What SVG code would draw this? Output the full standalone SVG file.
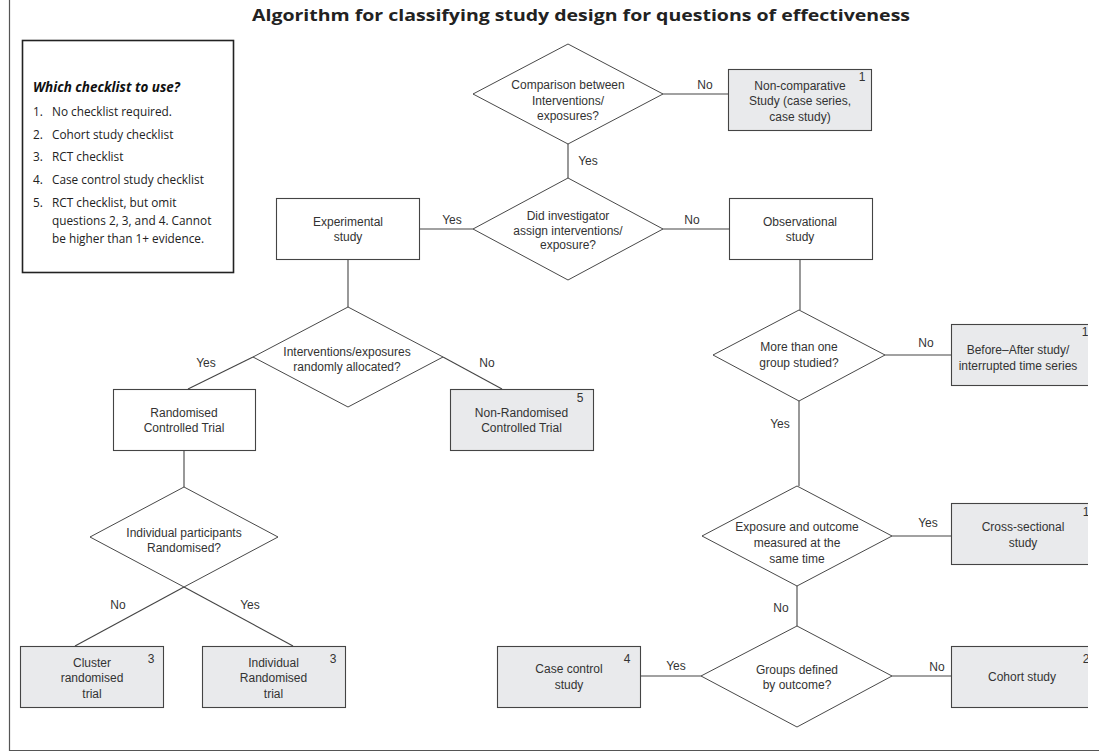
<svg xmlns="http://www.w3.org/2000/svg" width="1099" height="754" viewBox="0 0 1099 754">
  <defs>
    <clipPath id="page">
      <rect x="0" y="0" width="1088" height="754"/>
    </clipPath>
  </defs>
  <style>
    .frame { fill: none; stroke: #555; stroke-width: 1.2; }
    .legend { fill: #fff; stroke: #222; stroke-width: 1.6; }
    .box { fill: #fff; stroke: #444; stroke-width: 1.1; }
    .grey { fill: #e9eaec; stroke: #444; stroke-width: 1.1; }
    .dia { fill: #fff; stroke: #333; stroke-width: 0.9; }
    .conn line, .conn polyline { stroke: #444; stroke-width: 1.1; fill: none; }
    .t { font-family: "Liberation Sans", Arial, sans-serif; font-size: 12px; fill: #333; text-anchor: middle; }
    .lbl { font-family: "Liberation Sans", Arial, sans-serif; font-size: 12px; fill: #333; text-anchor: middle; }
    .num { font-family: "Liberation Sans", Arial, sans-serif; font-size: 12px; fill: #333; text-anchor: middle; }
    .title { font-family: "Open Sans", Lato, sans-serif; font-size: 16px; font-weight: bold; fill: #222; }
    .lh { font-family: "Open Sans", Lato, sans-serif; font-size: 15px; font-weight: bold; font-style: italic; fill: #111; }
    .li { font-family: "Open Sans", Lato, sans-serif; font-size: 11.8px; fill: #222; }
  </style>

  <!-- page frame -->
  <polyline class="frame" points="9.5,0 9.5,750.5 1099,750.5"/>

  <text class="title" x="252" y="21" textLength="658" lengthAdjust="spacingAndGlyphs">Algorithm for classifying study design for questions of effectiveness</text>

  <!-- legend -->
  <g id="legend">
    <rect class="legend" x="22.5" y="40.5" width="211" height="232"/>
    <text class="lh" x="33" y="92" textLength="147" lengthAdjust="spacingAndGlyphs">Which checklist to use?</text>
    <text class="li" x="33" y="116">1.</text><text class="li" x="52" y="116">No checklist required.</text>
    <text class="li" x="33" y="139">2.</text><text class="li" x="52" y="139">Cohort study checklist</text>
    <text class="li" x="33" y="161">3.</text><text class="li" x="52" y="161">RCT checklist</text>
    <text class="li" x="33" y="184">4.</text><text class="li" x="52" y="184">Case control study checklist</text>
    <text class="li" x="33" y="207">5.</text><text class="li" x="52" y="207">RCT checklist, but omit</text>
    <text class="li" x="52" y="225">questions 2, 3, and 4. Cannot</text>
    <text class="li" x="52" y="243">be higher than 1+ evidence.</text>
  </g>

  <!-- connectors -->
  <g id="connectors" class="conn" clip-path="url(#page)">
    <line x1="663" y1="94" x2="728" y2="94"/>
    <line x1="568" y1="144" x2="568" y2="178"/>
    <line x1="473" y1="229" x2="420" y2="229"/>
    <line x1="663" y1="229" x2="729" y2="229"/>
    <line x1="348" y1="259" x2="348" y2="307"/>
    <line x1="253" y1="357" x2="188" y2="389"/>
    <line x1="443" y1="357" x2="502" y2="389"/>
    <line x1="184" y1="451" x2="184" y2="487"/>
    <line x1="184" y1="587" x2="293" y2="646"/>
    <line x1="184" y1="587" x2="75" y2="646"/>
    <line x1="800" y1="259" x2="800" y2="310"/>
    <line x1="885" y1="355" x2="951" y2="355"/>
    <line x1="799" y1="401" x2="799" y2="486"/>
    <line x1="892" y1="536" x2="951" y2="536"/>
    <line x1="797" y1="586" x2="797" y2="626"/>
    <line x1="892" y1="676" x2="951" y2="676"/>
    <line x1="641" y1="676" x2="701" y2="676"/>
  </g>

  <!-- branch labels -->
  <g id="branch-labels">
    <text class="lbl" x="705" y="89">No</text>
    <text class="lbl" x="588" y="165">Yes</text>
    <text class="lbl" x="452" y="224">Yes</text>
    <text class="lbl" x="692" y="224">No</text>
    <text class="lbl" x="206" y="367">Yes</text>
    <text class="lbl" x="487" y="367">No</text>
    <text class="lbl" x="118" y="609">No</text>
    <text class="lbl" x="250" y="609">Yes</text>
    <text class="lbl" x="926" y="347">No</text>
    <text class="lbl" x="780" y="428">Yes</text>
    <text class="lbl" x="928" y="527">Yes</text>
    <text class="lbl" x="781" y="612">No</text>
    <text class="lbl" x="937" y="671">No</text>
    <text class="lbl" x="676" y="670">Yes</text>
  </g>

  <!-- decisions -->
  <g id="q-comparison">
    <polygon class="dia" points="568,44 663,94 568,144 473,94"/>
    <text class="t" x="568" y="89">Comparison between</text>
    <text class="t" x="568" y="104.5">Interventions/</text>
    <text class="t" x="568" y="120">exposures?</text>
  </g>
  <g id="q-assign">
    <polygon class="dia" points="568,178 663,229 568,280 473,229"/>
    <text class="t" x="568" y="219.5">Did investigator</text>
    <text class="t" x="568" y="234.5">assign interventions/</text>
    <text class="t" x="568" y="249">exposure?</text>
  </g>
  <g id="q-random">
    <polygon class="dia" points="348,307 443,357 348,407 253,357"/>
    <text class="t" x="347" y="356">Interventions/exposures</text>
    <text class="t" x="347" y="371">randomly allocated?</text>
  </g>
  <g id="q-individual">
    <polygon class="dia" points="184,487 278,537 184,587 90,537"/>
    <text class="t" x="184" y="537">Individual participants</text>
    <text class="t" x="184" y="552">Randomised?</text>
  </g>
  <g id="q-groups">
    <polygon class="dia" points="799,310 885,355 799,401 713,355"/>
    <text class="t" x="799" y="351">More than one</text>
    <text class="t" x="799" y="367">group studied?</text>
  </g>
  <g id="q-same-time">
    <polygon class="dia" points="797,486 892,536 797,586 702,536"/>
    <text class="t" x="797" y="531">Exposure and outcome</text>
    <text class="t" x="797" y="547">measured at the</text>
    <text class="t" x="797" y="563">same time</text>
  </g>
  <g id="q-outcome">
    <polygon class="dia" points="797,626 892,676 797,727 701,676"/>
    <text class="t" x="797" y="674">Groups defined</text>
    <text class="t" x="797" y="689">by outcome?</text>
  </g>

  <!-- study design boxes -->
  <g id="non-comparative">
    <rect class="grey" x="728.5" y="69.5" width="143" height="61"/>
    <text class="num" x="862" y="81">1</text>
    <text class="t" x="800" y="89.5">Non-comparative</text>
    <text class="t" x="800" y="105">Study (case series,</text>
    <text class="t" x="800" y="120.5">case study)</text>
  </g>
  <g id="experimental">
    <rect class="box" x="276.5" y="198.5" width="143" height="61"/>
    <text class="t" x="348" y="226">Experimental</text>
    <text class="t" x="348" y="241">study</text>
  </g>
  <g id="observational">
    <rect class="box" x="729.5" y="198.5" width="143" height="61"/>
    <text class="t" x="800" y="226">Observational</text>
    <text class="t" x="800" y="241">study</text>
  </g>
  <g id="rct">
    <rect class="box" x="113.5" y="389.5" width="142" height="61"/>
    <text class="t" x="184" y="416.5">Randomised</text>
    <text class="t" x="184" y="432">Controlled Trial</text>
  </g>
  <g id="non-randomised">
    <rect class="grey" x="450.5" y="389.5" width="143" height="61"/>
    <text class="num" x="580" y="402">5</text>
    <text class="t" x="521.5" y="416.5">Non-Randomised</text>
    <text class="t" x="521.5" y="432">Controlled Trial</text>
  </g>
  <g id="cluster">
    <rect class="grey" x="20.5" y="646.5" width="143" height="61"/>
    <text class="num" x="151" y="663">3</text>
    <text class="t" x="92" y="666.5">Cluster</text>
    <text class="t" x="92" y="682">randomised</text>
    <text class="t" x="92" y="697.5">trial</text>
  </g>
  <g id="individual">
    <rect class="grey" x="202.5" y="646.5" width="143" height="61"/>
    <text class="num" x="333" y="663">3</text>
    <text class="t" x="273.5" y="666.5">Individual</text>
    <text class="t" x="273.5" y="682">Randomised</text>
    <text class="t" x="273.5" y="697.5">trial</text>
  </g>
  <g id="case-control">
    <rect class="grey" x="497.5" y="646.5" width="143" height="61"/>
    <text class="num" x="627" y="663">4</text>
    <text class="t" x="569" y="673">Case control</text>
    <text class="t" x="569" y="689">study</text>
  </g>
  <g id="right-column" clip-path="url(#page)">
    <g id="before-after">
      <rect class="grey" x="951.5" y="324.5" width="143" height="61"/>
      <text class="num" x="1085" y="336">1</text>
      <text class="t" x="1018" y="354">Before–After study/</text>
      <text class="t" x="1018" y="370">interrupted time series</text>
    </g>
    <g id="cross-sectional">
      <rect class="grey" x="951.5" y="503.5" width="143" height="61"/>
      <text class="num" x="1086" y="516">1</text>
      <text class="t" x="1023" y="531">Cross-sectional</text>
      <text class="t" x="1023" y="547">study</text>
    </g>
    <g id="cohort">
      <rect class="grey" x="951.5" y="646.5" width="143" height="61"/>
      <text class="num" x="1086" y="663">2</text>
      <text class="t" x="1022" y="681">Cohort study</text>
    </g>
  </g>
</svg>
